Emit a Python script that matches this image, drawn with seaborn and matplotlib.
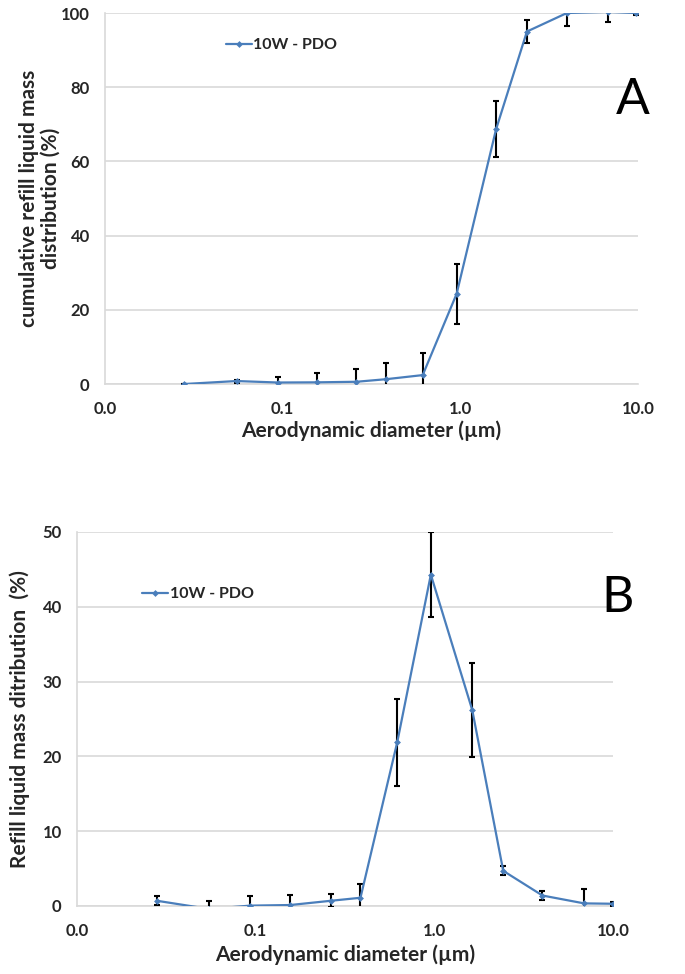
import matplotlib
matplotlib.use("Agg")
import matplotlib.pyplot as plt
import seaborn as sns
import pandas as pd
import numpy as np

# ---- data ----
diam_a = [0.028, 0.055, 0.094, 0.157, 0.26, 0.383, 0.614, 0.953, 1.59, 2.37, 3.98, 6.77, 9.7]
cum_a = [0.0, 0.8, 0.4, 0.45, 0.6, 1.3, 2.4, 24.3, 68.7, 95.0, 100.0, 100.3, 100.0]
err_a = [0.0, 0.4, 1.6, 2.4, 3.5, 4.3, 5.9, 8.0, 7.6, 3.0, 3.6, 2.7, 0.5]

diam_b = [0.028, 0.055, 0.093, 0.156, 0.264, 0.386, 0.62, 0.956, 1.63, 2.43, 4.03, 6.89, 10.0]
mass_b = [0.7, -0.4, 0.05, 0.13, 0.7, 1.1, 21.9, 44.3, 26.2, 4.7, 1.4, 0.35, 0.3]
err_b = [0.6, 1.1, 1.3, 1.35, 0.9, 1.9, 5.8, 5.7, 6.3, 0.6, 0.6, 1.9, 0.3]

series_name = "10W - PDO"
xticks = [0.01, 0.1, 1, 10]
xtick_labels = ["0.0", "0.1", "1.0", "10.0"]
yticks_a = [0, 20, 40, 60, 80, 100]
yticks_b = [0, 10, 20, 30, 40, 50]

sns.set_theme(style="white")
plt.rcParams['font.family'] = ['Lato', 'DejaVu Sans']

LINE = "#4A7EBB"
GRID = "#D9D9D9"

fig = plt.figure(figsize=(6.85, 9.74), dpi=100)
ax1 = fig.add_axes([105/685, 1-384/974, (638-105)/685, (384-13)/974])
ax2 = fig.add_axes([77/685, 1-906/974, (613-77)/685, (906-532)/974])


def style(ax, x, y, e, ymax, yticks, ylabel, leg_xy, letter, letter_xy,
          ylab_x, xlab_y):
    df = pd.DataFrame({"d": x, "v": y})
    ax.errorbar(x, y, yerr=e, fmt="none", ecolor="black", elinewidth=1.5,
                capsize=2, capthick=1.5, zorder=3)
    sns.lineplot(data=df, x="d", y="v", ax=ax, color=LINE, marker="D",
                 markersize=3.5, markeredgewidth=0, linewidth=1.6,
                 label=series_name, zorder=4, sort=False)
    ax.set_xscale("log")
    ax.set_xlim(0.01, 10)
    ax.set_ylim(0, ymax)
    ax.set_xticks(xticks)
    ax.set_xticklabels(xtick_labels)
    ax.minorticks_off()
    ax.set_yticks(yticks)
    ax.yaxis.grid(True, color=GRID, linewidth=1.2)
    ax.xaxis.grid(False)
    for s in ["top", "right"]:
        ax.spines[s].set_visible(False)
    for s in ["left", "bottom"]:
        ax.spines[s].set_color(GRID)
        ax.spines[s].set_linewidth(1.2)
    ax.tick_params(axis="both", which="major", length=4, width=1, color=GRID,
                   labelsize=12, pad=6, direction="out")
    ax.tick_params(axis="x", pad=8)
    ax.tick_params(axis="y", length=5)
    for lab in ax.get_xticklabels() + ax.get_yticklabels():
        lab.set_fontweight("bold")
    ax.set_xlabel("Aerodynamic diameter (µm)", fontsize=15, fontweight="bold")
    ax.set_ylabel(ylabel, fontsize=15, fontweight="bold", linespacing=1.05)
    ax.yaxis.set_label_coords(ylab_x, 0.5)
    ax.xaxis.set_label_coords(0.5, xlab_y)
    ax.legend(loc="upper left", bbox_to_anchor=leg_xy, frameon=False,
              handlelength=1.6, handletextpad=0.1, borderaxespad=0,
              prop={"weight": "bold", "size": 11.5})
    ax.text(letter_xy[0], letter_xy[1], letter, transform=ax.transAxes,
            fontsize=36, ha="center", va="center", color="black")


style(ax1, diam_a, cum_a, err_a, 100, yticks_a,
      "cumulative refill liquid mass\ndistribution (%)",
      (0.215, 0.95), "A", (0.99, 0.765), -0.084, -0.097)
style(ax2, diam_b, mass_b, err_b, 50, yticks_b,
      "Refill liquid mass ditribution  (%)",
      (0.11, 0.87), "B", (1.009, 0.823), -0.088, -0.102)

fig.savefig("out.png", dpi=100)
